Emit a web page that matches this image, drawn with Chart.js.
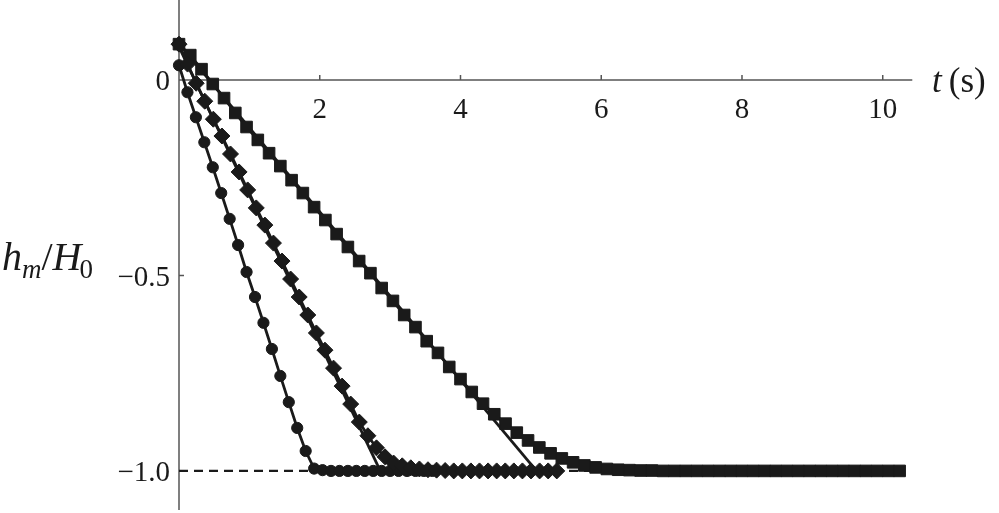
<!DOCTYPE html>
<html>
<head>
<meta charset="utf-8">
<script src="https://cdn.jsdelivr.net/npm/chart.js@4.4.1/dist/chart.umd.min.js"></script>
<style>
  html, body { margin: 0; padding: 0; background: #fff; }
  canvas { display: block; }
</style>
</head>
<body>
<canvas id="chart" width="999" height="513"></canvas>
<script>
// circles
const circleT = [0, 0.12, 0.24, 0.36, 0.48, 0.6, 0.72, 0.84, 0.96, 1.08, 1.2, 1.32, 1.44, 1.56, 1.68, 1.8,
  1.92, 2.04, 2.16, 2.28, 2.4, 2.52, 2.64, 2.76, 2.88, 3.0, 3.12, 3.24, 3.36, 3.48, 3.6];
const circleH = [0.038, -0.031, -0.095, -0.159, -0.223, -0.289, -0.355, -0.422, -0.491, -0.555, -0.621, -0.688, -0.757, -0.824, -0.890, -0.949,
  -0.994, -0.998, -1, -1, -1, -1, -1, -1, -1, -1, -1, -1, -1, -1, -1];

// diamonds
const diamondT = [0, 0.122, 0.244, 0.366, 0.488, 0.61, 0.732, 0.854, 0.976, 1.098, 1.22, 1.342, 1.464, 1.586, 1.708,
  1.83, 1.952, 2.074, 2.196, 2.318, 2.44, 2.562, 2.684, 2.806, 2.928, 3.05, 3.172, 3.294, 3.416, 3.538,
  3.66, 3.782, 3.904, 4.026, 4.148, 4.27, 4.392, 4.514, 4.636, 4.758, 4.88, 5.002, 5.124, 5.246, 5.368];
const diamondH = [0.092, 0.041, -0.008, -0.054, -0.100, -0.143, -0.189, -0.235, -0.281, -0.327, -0.371, -0.417, -0.463, -0.509, -0.555,
  -0.601, -0.647, -0.691, -0.737, -0.783, -0.829, -0.875, -0.910, -0.941, -0.964, -0.980, -0.987, -0.992, -0.995, -0.997,
  -0.998, -0.999, -1, -1, -1, -1, -1, -1, -1, -1, -1, -1, -1, -1, -1];

// squares
const squareT = [0, 0.16, 0.32, 0.48, 0.64, 0.8, 0.96, 1.12, 1.28, 1.44, 1.6, 1.76, 1.92, 2.08, 2.24, 2.4,
  2.56, 2.72, 2.88, 3.04, 3.2, 3.36, 3.52, 3.68, 3.84, 4.0, 4.16, 4.32, 4.48, 4.64, 4.8, 4.96,
  5.12, 5.28, 5.44, 5.6, 5.76, 5.92, 6.08, 6.24, 6.4, 6.56, 6.72, 6.88, 7.04, 7.2, 7.36, 7.52,
  7.68, 7.84, 8.0, 8.16, 8.32, 8.48, 8.64, 8.8, 8.96, 9.12, 9.28, 9.44, 9.6, 9.76, 9.92, 10.08, 10.24];
const squareH = [0.092, 0.064, 0.028, -0.010, -0.046, -0.084, -0.120, -0.153, -0.187, -0.220, -0.256, -0.289, -0.325, -0.358, -0.394, -0.427,
  -0.463, -0.494, -0.532, -0.565, -0.601, -0.632, -0.668, -0.698, -0.734, -0.765, -0.798, -0.828, -0.855, -0.879, -0.902, -0.922,
  -0.940, -0.955, -0.968, -0.978, -0.986, -0.991, -0.995, -0.997, -0.998, -0.999, -0.999, -1, -1, -1, -1, -1,
  -1, -1, -1, -1, -1, -1, -1, -1, -1, -1, -1, -1, -1, -1, -1, -1, -1];

// straight lines
const diamondFitT = [0, 2.86];
const diamondFitH = [0.085, -1];
const squareFitT = [0, 5.08];
const squareFitH = [0.093, -1];
const levelT = [0, 10.3];
const levelH = [-1, -1];

// axes
const xTicks = [2, 4, 6, 8, 10];
const xTickLabels = ['2', '4', '6', '8', '10'];
const yTicks = [0, -0.5, -1.0];
const yTickLabels = ['0', '\u22120.5', '\u22121.0'];
const xMin = 0, xMax = 10.43, yMin = -1.1, yMax = 0.205;
const xAxisEnd = 10.42;

const ink = '#1a1a1a';

function toPoints(xs, ys) {
  return xs.map((x, i) => ({ x: x, y: ys[i] }));
}

function markerSet(label, xs, ys, style, radius, order) {
  return {
    label: label,
    data: toPoints(xs, ys),
    showLine: true,
    borderColor: ink,
    borderWidth: 2.8,
    backgroundColor: ink,
    pointStyle: style,
    pointRadius: radius,
    pointBackgroundColor: ink,
    pointBorderColor: ink,
    pointBorderWidth: 1,
    clip: false,
    order: order
  };
}

function lineSet(label, xs, ys, dash, width, order) {
  return {
    label: label,
    data: toPoints(xs, ys),
    showLine: true,
    borderColor: ink,
    borderWidth: width,
    borderDash: dash,
    pointRadius: 0,
    clip: false,
    order: order
  };
}

const axesPlugin = {
  id: 'axesPlugin',
  beforeDatasetsDraw(chart) {
    const ctx = chart.ctx;
    const xs = chart.scales.x;
    const ys = chart.scales.y;
    const area = chart.chartArea;
    const x0 = xs.getPixelForValue(0);
    const y0 = ys.getPixelForValue(0);

    ctx.save();
    ctx.strokeStyle = '#555';
    ctx.lineWidth = 1.5;
    ctx.beginPath();
    ctx.moveTo(x0, area.top);
    ctx.lineTo(x0, area.bottom);
    ctx.moveTo(x0, y0);
    ctx.lineTo(xs.getPixelForValue(xAxisEnd), y0);
    xTicks.forEach(v => {
      const px = xs.getPixelForValue(v);
      ctx.moveTo(px, y0);
      ctx.lineTo(px, y0 - 5);
    });
    yTicks.forEach(v => {
      if (v === 0) return;
      const py = ys.getPixelForValue(v);
      ctx.moveTo(x0, py);
      ctx.lineTo(x0 + 5, py);
    });
    ctx.stroke();

    ctx.fillStyle = ink;
    ctx.font = '29px "Liberation Serif"';
    ctx.textBaseline = 'alphabetic';
    ctx.textAlign = 'center';
    xTicks.forEach((v, i) => {
      ctx.fillText(xTickLabels[i], xs.getPixelForValue(v), y0 + 38);
    });
    ctx.textAlign = 'right';
    yTicks.forEach((v, i) => {
      ctx.fillText(yTickLabels[i], x0 - 9, ys.getPixelForValue(v) + 10);
    });

    // x title: t (s)
    ctx.textAlign = 'left';
    let x = 932;
    ctx.font = 'italic 35px "Liberation Serif"';
    ctx.fillText('t', x, 92);
    x += ctx.measureText('t').width + 7;
    ctx.font = '35px "Liberation Serif"';
    ctx.fillText('(s)', x, 92);

    // y title: h_m / H_0
    x = 2;
    const base = 270;
    ctx.font = 'italic 40px "Liberation Serif"';
    ctx.fillText('h', x, base);
    x += ctx.measureText('h').width;
    ctx.font = 'italic 27px "Liberation Serif"';
    ctx.fillText('m', x, base + 8);
    x += ctx.measureText('m').width;
    ctx.font = '40px "Liberation Serif"';
    ctx.fillText('/', x, base);
    x += ctx.measureText('/').width;
    ctx.font = 'italic 40px "Liberation Serif"';
    ctx.fillText('H', x, base);
    x += ctx.measureText('H').width - 2;
    ctx.font = '27px "Liberation Serif"';
    ctx.fillText('0', x, base + 8);
    ctx.restore();
  }
};

new Chart(document.getElementById('chart'), {
  type: 'scatter',
  data: {
    datasets: [
      markerSet('diamonds', diamondT, diamondH, 'rectRot', 8, 1),
      markerSet('circles', circleT, circleH, 'circle', 5.6, 2),
      markerSet('squares', squareT, squareH, 'rect', 8.2, 3),
      lineSet('diamond fit', diamondFitT, diamondFitH, [], 2.8, 5),
      lineSet('square fit', squareFitT, squareFitH, [], 2.8, 6),
      lineSet('h = -1', levelT, levelH, [9, 6], 2.3, 7)
    ]
  },
  options: {
    responsive: false,
    devicePixelRatio: 1,
    animation: false,
    layout: { autoPadding: false, padding: { left: 179, right: 86, top: 0, bottom: 3 } },
    plugins: {
      legend: { display: false },
      tooltip: { enabled: false }
    },
    scales: {
      x: { type: 'linear', min: xMin, max: xMax, display: false },
      y: { type: 'linear', min: yMin, max: yMax, display: false }
    }
  },
  plugins: [axesPlugin]
});
</script>
</body>
</html>
